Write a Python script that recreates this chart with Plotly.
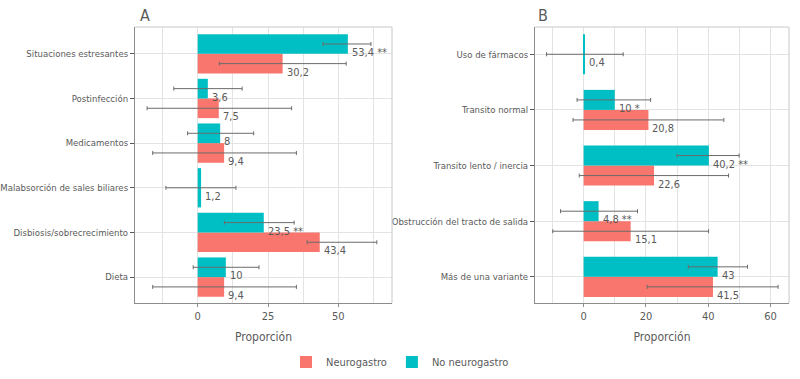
import plotly.graph_objects as go

# ---------------- data ----------------
series_names = ["Neurogastro", "No neurogastro"]
series_colors = ["#F8766D", "#00BFC4"]

cats_a = ["Situaciones estresantes", "Postinfección", "Medicamentos",
          "Malabsorción de sales biliares", "Disbiosis/sobrecrecimiento", "Dieta"]
neuro_a = [30.2, 7.5, 9.4, None, 43.4, 9.4]
neuro_a_lo = [7.7, -18.0, -16.0, None, 38.9, -16.0]
neuro_a_hi = [52.8, 33.4, 35.1, None, 63.7, 35.1]
noneuro_a = [53.4, 3.6, 8, 1.2, 23.5, 10]
noneuro_a_lo = [44.6, -8.5, -3.6, -11.3, 9.5, -1.6]
noneuro_a_hi = [61.6, 15.8, 19.9, 13.6, 34.3, 21.8]
sig_a = ["**", "", "", "", "**", ""]

cats_b = ["Uso de fármacos", "Transito normal", "Transito lento / inercia",
          "Obstrucción del tracto de salida", "Más de una variante"]
neuro_b = [None, 20.8, 22.6, 15.1, 41.5]
neuro_b_lo = [None, -3.4, -1.4, -9.9, 20.4]
neuro_b_hi = [None, 45.0, 46.5, 40.1, 62.4]
noneuro_b = [0.4, 10, 40.2, 4.8, 43]
noneuro_b_lo = [-11.9, -2.1, 30.0, -7.4, 33.6]
noneuro_b_hi = [12.7, 21.5, 49.9, 17.3, 52.6]
sig_b = ["", "*", "**", "**", ""]

# ---------------- style ----------------
FONT = "Liberation Sans Narrow, DejaVu Sans Condensed, Roboto, sans-serif"
TXT = "#5a5a5a"
GRID = "#e3e3e3"
AXL = "#8c8c8c"
BORDER = "#c8c8c8"
ERR = "#6b6b6b"

fig = go.Figure()


def fmt(v):
    return f"{v:g}".replace(".", ",")


def add_panel(cats, neuro, nlo, nhi, nono, olo, ohi, sig, xa, ya, w, show_legend):
    pos = list(range(len(cats)))
    t_off, t_w, t_c = [], [], []
    for i, p in enumerate(pos):
        if neuro[i] is None:
            t_off.append(-w); t_w.append(2 * w); t_c.append(p)
        else:
            t_off.append(-w); t_w.append(w); t_c.append(p - w / 2)
    r_y = [p for i, p in enumerate(pos) if neuro[i] is not None]
    r_x = [neuro[i] for i in pos if neuro[i] is not None]
    r_c = [p + w / 2 for p in r_y]

    fig.add_trace(go.Bar(
        x=r_x, y=r_y, orientation="h", base=0, offset=0, width=w,
        marker=dict(color=series_colors[0], line=dict(width=0)),
        name=series_names[0], legendrank=1, showlegend=show_legend,
        xaxis=xa, yaxis=ya, hoverinfo="skip"))
    fig.add_trace(go.Bar(
        x=nono, y=pos, orientation="h", base=0, offset=t_off, width=t_w,
        marker=dict(color=series_colors[1], line=dict(width=0)),
        name=series_names[1], legendrank=2, showlegend=show_legend,
        xaxis=xa, yaxis=ya, hoverinfo="skip"))

    r_lo = [nlo[i] for i in pos if neuro[i] is not None]
    r_hi = [nhi[i] for i in pos if neuro[i] is not None]
    fig.add_trace(go.Scatter(
        x=r_x, y=r_c, mode="markers", marker=dict(opacity=0, size=1),
        error_x=dict(type="data", symmetric=False,
                     array=[h - v for h, v in zip(r_hi, r_x)],
                     arrayminus=[v - l for l, v in zip(r_lo, r_x)],
                     color=ERR, thickness=1, width=2),
        showlegend=False, xaxis=xa, yaxis=ya, hoverinfo="skip"))
    fig.add_trace(go.Scatter(
        x=nono, y=t_c, mode="markers", marker=dict(opacity=0, size=1),
        error_x=dict(type="data", symmetric=False,
                     array=[h - v for h, v in zip(ohi, nono)],
                     arrayminus=[v - l for l, v in zip(olo, nono)],
                     color=ERR, thickness=1, width=2),
        showlegend=False, xaxis=xa, yaxis=ya, hoverinfo="skip"))

    for i in pos:
        lab = fmt(nono[i]) + ((" " + sig[i]) if sig[i] else "")
        fig.add_annotation(x=nono[i], y=t_c[i], xref=xa, yref=ya, text=lab,
                           showarrow=False, xanchor="left", yanchor="middle",
                           xshift=2, yshift=-8.5,
                           font=dict(family=FONT, size=11, color=TXT))
    for x, y in zip(r_x, r_c):
        fig.add_annotation(x=x, y=y, xref=xa, yref=ya, text=fmt(x),
                           showarrow=False, xanchor="left", yanchor="middle",
                           xshift=2, yshift=-8.5,
                           font=dict(family=FONT, size=11, color=TXT))
    return pos


pos_a = add_panel(cats_a, neuro_a, neuro_a_lo, neuro_a_hi, noneuro_a,
                  noneuro_a_lo, noneuro_a_hi, sig_a, "x", "y", 0.44, True)
pos_b = add_panel(cats_b, neuro_b, neuro_b_lo, neuro_b_hi, noneuro_b,
                  noneuro_b_lo, noneuro_b_hi, sig_b, "x2", "y2", 0.36, False)

ydom = [1 - 303 / 379, 1 - 27 / 379]
xdom_a = [135 / 800, 392 / 800]
xdom_b = [535 / 800, 789 / 800]

common_x = dict(showgrid=True, gridcolor=GRID, gridwidth=1, zeroline=False,
                showline=True, linecolor=AXL, linewidth=1, automargin=False,
                ticks="outside", ticklen=3, tickcolor=AXL,
                tickfont=dict(family=FONT, size=11, color=TXT),
                title=dict(text="Proporción", font=dict(family=FONT, size=12, color=TXT), standoff=10))
common_y = dict(showgrid=True, gridcolor=GRID, gridwidth=1, zeroline=False,
                showline=True, linecolor=AXL, linewidth=1, automargin=False,
                ticks="outside", ticklen=4, tickcolor="#555555",
                tickfont=dict(family=FONT, size=9.5, color=TXT))

fig.update_layout(
    width=800, height=379, margin=dict(l=0, r=0, t=0, b=0, autoexpand=False),
    plot_bgcolor="white", paper_bgcolor="white",
    font=dict(family=FONT, color=TXT),
    barmode="overlay",
    xaxis=dict(domain=xdom_a, anchor="y", range=[-22.3, 69.1], tick0=0, dtick=25,
               minor=dict(dtick=12.5, tick0=0, showgrid=True, gridcolor=GRID, gridwidth=0.8), **common_x),
    yaxis=dict(domain=ydom, anchor="x", range=[5.58, -0.6],
               tickvals=pos_a, ticktext=cats_a, **common_y),
    xaxis2=dict(domain=xdom_b, anchor="y2", range=[-15.6, 65.9], tick0=0, dtick=20,
                minor=dict(dtick=10, tick0=0, showgrid=True, gridcolor=GRID, gridwidth=0.8), **common_x),
    yaxis2=dict(domain=ydom, anchor="x2", range=[4.47, -0.49],
                tickvals=pos_b, ticktext=cats_b, **common_y),
    legend=dict(orientation="h", x=0.5, xanchor="center", y=(379 - 362) / 379, yanchor="middle",
                font=dict(family=FONT, size=11, color=TXT), traceorder="normal",
                itemwidth=30),
    showlegend=True,
)

for xr, yr in (("x domain", "y domain"), ("x2 domain", "y2 domain")):
    fig.add_shape(type="line", xref=xr, yref=yr, x0=0, x1=1, y0=1, y1=1,
                  line=dict(color=BORDER, width=1), layer="above")
    fig.add_shape(type="line", xref=xr, yref=yr, x0=1, x1=1, y0=0, y1=1,
                  line=dict(color=BORDER, width=1), layer="above")

fig.add_annotation(text="A", xref="paper", yref="paper", x=138 / 800, y=1 - 15 / 379,
                   xanchor="left", yanchor="middle", showarrow=False,
                   font=dict(family=FONT, size=16, color=TXT))
fig.add_annotation(text="B", xref="paper", yref="paper", x=536 / 800, y=1 - 15 / 379,
                   xanchor="left", yanchor="middle", showarrow=False,
                   font=dict(family=FONT, size=16, color=TXT))

fig.write_html("out.html", config={"displayModeBar": False},
               post_script="document.body.style.margin='0';")
